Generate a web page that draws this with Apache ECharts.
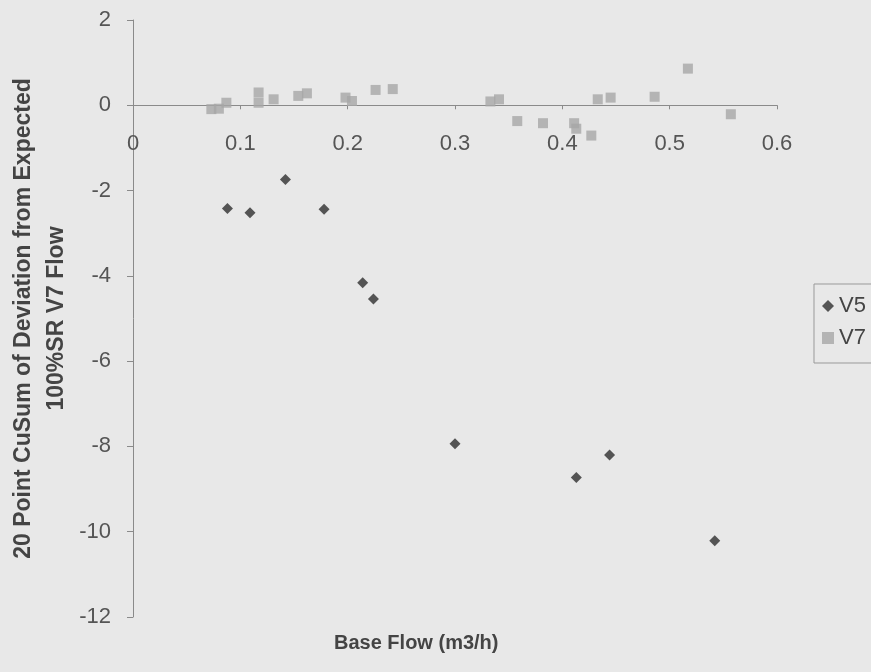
<!DOCTYPE html>
<html>
<head>
<meta charset="utf-8">
<script src="https://cdn.jsdelivr.net/npm/echarts@6/dist/echarts.min.js"></script>
<style>
html,body{margin:0;padding:0;background:#e8e8e8;}
#c{width:871px;height:672px;}
</style>
</head>
<body>
<div id="c"></div>
<script>
const xTicks = [0, 0.1, 0.2, 0.3, 0.4, 0.5, 0.6];
const yTicks = [-12, -10, -8, -6, -4, -2, 0, 2];

const v5X = [0.088, 0.109, 0.142, 0.178, 0.214, 0.224, 0.300, 0.413, 0.444, 0.542];
const v5Y = [-2.42, -2.52, -1.74, -2.44, -4.16, -4.54, -7.94, -8.73, -8.20, -10.21];

const v7X = [0.073, 0.080, 0.087, 0.117, 0.117, 0.131, 0.154, 0.162, 0.198, 0.204, 0.226, 0.242,
             0.333, 0.341, 0.358, 0.382, 0.411, 0.413, 0.427, 0.433, 0.445, 0.486, 0.517, 0.557];
const v7Y = [-0.09, -0.08, 0.06, 0.30, 0.06, 0.14, 0.22, 0.28, 0.18, 0.10, 0.36, 0.38,
             0.09, 0.14, -0.37, -0.42, -0.42, -0.55, -0.71, 0.14, 0.18, 0.20, 0.86, -0.21];

const font = "'Liberation Sans', Arial, sans-serif";
const gridTop = 20, gridBottom = 55, H = 672;
const plotH = H - gridTop - gridBottom;
const yMin = yTicks[0], yMax = yTicks[yTicks.length - 1];
// shift a top-positioned x axis down to the y = 0 line
const zeroOffset = -plotH * (yMax - 0) / (yMax - yMin);

const chart = echarts.init(document.getElementById('c'));
chart.setOption({
  backgroundColor: '#e8e8e8',
  animation: false,
  grid: {left: 133, right: 94, top: gridTop, bottom: gridBottom, containLabel: false, outerBoundsMode: 'none'},
  xAxis: {
    type: 'value', position: 'top', offset: zeroOffset,
    min: xTicks[0], max: xTicks[xTicks.length - 1], interval: 0.1,
    axisLine: {onZero: false, lineStyle: {color: '#8a8a8a', width: 1}},
    axisTick: {show: true, inside: true, length: 4, lineStyle: {color: '#8a8a8a'}},
    splitLine: {show: false},
    axisLabel: {inside: true, fontFamily: font, fontSize: 22, color: '#555', margin: 28,
      formatter: v => String(+v.toFixed(1))}
  },
  yAxis: {
    type: 'value', min: yMin, max: yMax, interval: 2,
    axisLine: {show: true, onZero: false, lineStyle: {color: '#8a8a8a', width: 1}},
    axisTick: {show: true, length: 6, lineStyle: {color: '#8a8a8a'}},
    splitLine: {show: false},
    axisLabel: {fontFamily: font, fontSize: 22, color: '#555', margin: 22},
    name: '20 Point CuSum of Deviation from Expected\n100%SR V7 Flow',
    nameLocation: 'middle', nameGap: 60, nameRotate: 90, nameMoveOverlap: false,
    nameTextStyle: {fontFamily: font, fontSize: 23, fontWeight: 'bold', color: '#444', lineHeight: 33, align: 'center'}
  },
  legend: {
    orient: 'vertical', left: 814, top: 284,
    itemGap: 10, itemWidth: 12, itemHeight: 12,
    padding: [11, 30, 14, 8],
    borderColor: '#999', borderWidth: 1,
    textStyle: {fontFamily: font, fontSize: 22, color: '#444'},
    data: [{name: 'V5', icon: 'diamond'}, {name: 'V7', icon: 'rect'}]
  },
  graphic: [{
    type: 'text', left: 334, top: 633,
    style: {text: 'Base Flow (m3/h)', font: 'bold 20px ' + font, fill: '#444'}
  }],
  series: [
    {name: 'V5', type: 'scatter', symbol: 'diamond', symbolSize: 11,
     itemStyle: {color: '#2e2e2e'},
     data: v5X.map((x, i) => [x, v5Y[i]])},
    {name: 'V7', type: 'scatter', symbol: 'rect', symbolSize: 10,
     itemStyle: {color: '#a6a6a6'},
     data: v7X.map((x, i) => [x, v7Y[i]])}
  ]
});
</script>
</body>
</html>
